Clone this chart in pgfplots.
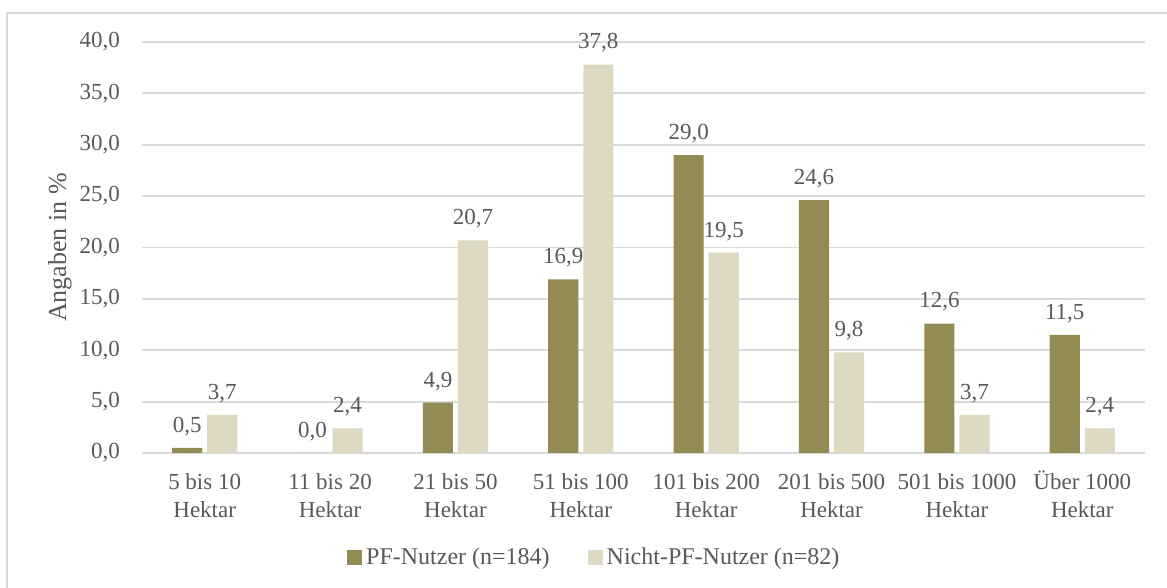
\documentclass[border=0pt]{standalone}
\usepackage{pgfplots}
\pgfplotsset{compat=1.18}
\usepackage{fontspec}
\setmainfont{Liberation Serif}

\definecolor{pfdark}{HTML}{948A54}
\definecolor{pflight}{HTML}{DDD9C3}
\definecolor{txtgray}{HTML}{595959}
\definecolor{gridgray}{HTML}{D9D9D9}
\newcommand\hs{\vphantom{Ü}}

\begin{document}
\fontsize{11.5}{14}\selectfont
\begin{tikzpicture}
\path[use as bounding box] (-71pt,-67.5pt) rectangle (512.5pt,226.5pt);
\draw[gridgray, line width=1pt] (-67.5pt,220pt) rectangle (520pt,-80pt);
\begin{axis}[
    at={(0,0)}, anchor=south west,
    scale only axis,
    width=501.5pt, height=205.5pt,
    xmin=-0.5, xmax=7.5,
    ymin=0, ymax=40,
    ytick={0,5,...,40},
    xtick={0,...,7},
    xticklabels={{\hs5 bis 10\\Hektar},{\hs11 bis 20\\Hektar},{\hs21 bis 50\\Hektar},{\hs51 bis 100\\Hektar},{\hs101 bis 200\\Hektar},{\hs201 bis 500\\Hektar},{\hs501 bis 1000\\Hektar},{\hs Über 1000\\Hektar}},
    xticklabel style={align=center, text=txtgray, yshift=-0.5pt},
    yticklabel style={text=txtgray, xshift=-7pt},
    tick style={draw=none},
    axis x line*=bottom, axis y line*=left,
    y axis line style={draw=none},
    x axis line style={-, draw=gridgray, line width=1.3pt},
    ymajorgrids,
    grid style={gridgray, line width=0.9pt},
    ylabel={Angaben in \%},
    ylabel style={at={(rel axis cs:0,0.5)}, anchor=center, yshift=41pt, text=txtgray,
        font=\fontsize{13}{15}\selectfont},
    /pgf/number format/.cd, fixed, fixed zerofill, precision=1, use comma, assume math mode=true,
    /pgfplots/.cd,
    ybar, bar width=0.24,
    nodes near coords,
    every node near coord/.append style={text=txtgray, yshift=2pt},
    clip=false,
    legend columns=2,
    legend style={draw=none, fill=none, at={(rel axis cs:0.452,0)}, anchor=center, yshift=-52.5pt,
        text=txtgray, font=\fontsize{12}{14}\selectfont,
        /tikz/every even column/.append style={column sep=17pt}},
    legend image code/.code={\fill[#1] (0pt,-3.6pt) rectangle (7.5pt,3.9pt);},
]
\addplot[fill=pfdark, draw=none, bar shift=-0.14] coordinates {(0,0.5) (1,0.0) (2,4.9) (3,16.9) (4,29.0) (5,24.6) (6,12.6) (7,11.5)};
\addplot[fill=pflight, draw=none, bar shift=0.14] coordinates {(0,3.7) (1,2.4) (2,20.7) (3,37.8) (4,19.5) (5,9.8) (6,3.7) (7,2.4)};
\legend{PF-Nutzer (n=184), Nicht-PF-Nutzer (n=82)}
\end{axis}
\end{tikzpicture}
\end{document}
